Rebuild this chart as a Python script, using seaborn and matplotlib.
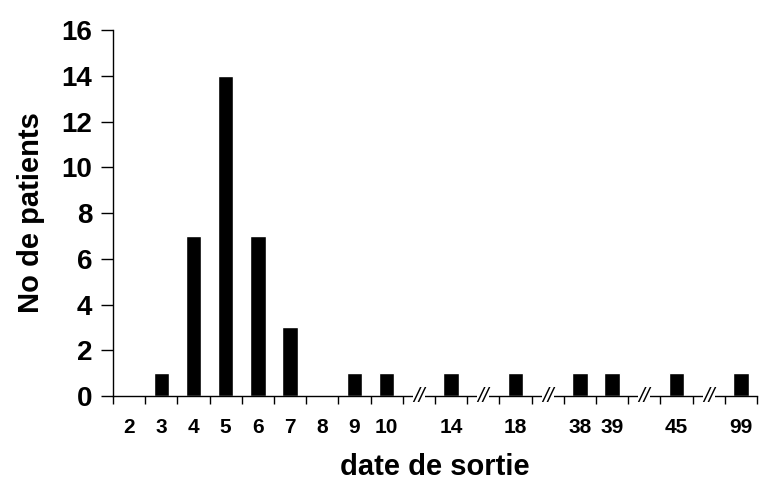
import matplotlib
matplotlib.use("Agg")
import matplotlib.pyplot as plt
import seaborn as sns
import pandas as pd
import numpy as np

# Data ("//" slots mark axis breaks)
slots = ["2", "3", "4", "5", "6", "7", "8", "9", "10", "//a", "14", "//b", "18",
         "//c", "38", "39", "//d", "45", "//e", "99"]
counts = [0, 1, 7, 14, 7, 3, 0, 1, 1, 0, 1, 0, 1, 0, 1, 1, 0, 1, 0, 1]

data = pd.DataFrame({"date": slots, "n": counts})

sns.set_style("ticks")
plt.rcParams['font.family'] = ['Liberation Sans', 'DejaVu Sans']
plt.rcParams['font.weight'] = 'bold'
plt.rcParams['text.color'] = 'black'
plt.rcParams['axes.labelcolor'] = 'black'
plt.rcParams['xtick.color'] = 'black'
plt.rcParams['ytick.color'] = 'black'

fig = plt.figure(figsize=(7.76, 4.88), dpi=100)
ax = fig.add_axes([0.1456, 0.1885, 0.8299, 0.75])

sns.barplot(data=data, x="date", y="n", order=slots, color="black",
            saturation=1, width=0.48, ax=ax)

ax.set_ylim(0, 16)
ax.set_xlim(-0.5, len(slots) - 0.5)
ax.set_yticks(range(0, 17, 2))
ax.tick_params(axis='y', labelsize=20, length=9, width=1, pad=6)

# labels at slot centres, tick marks at slot boundaries
ax.set_xticks(range(len(slots)))
ax.set_xticklabels(["" if s.startswith("//") else s for s in slots],
                   fontsize=15, fontweight='bold')
ax.tick_params(axis='x', which='major', length=0, pad=16)
ax.set_xticks(np.arange(-0.5, len(slots), 1), minor=True)
ax.tick_params(axis='x', which='minor', length=6, width=1)

for i, s in enumerate(slots):
    if s.startswith("//"):
        ax.text(i, 0, "//", ha='center', va='center', fontsize=15,
                fontstyle='italic', fontweight='normal',
                bbox=dict(facecolor='white', edgecolor='none', pad=0.3),
                clip_on=False)

ax.set_xlabel("date de sortie", fontsize=21, fontweight='bold', labelpad=11)
ax.set_ylabel("No de patients", fontsize=21, fontweight='bold', labelpad=12)

for sp in ["top", "right"]:
    ax.spines[sp].set_visible(False)
for sp in ["left", "bottom"]:
    ax.spines[sp].set_linewidth(1)
    ax.spines[sp].set_color('black')

fig.savefig("out.png", dpi=100)
